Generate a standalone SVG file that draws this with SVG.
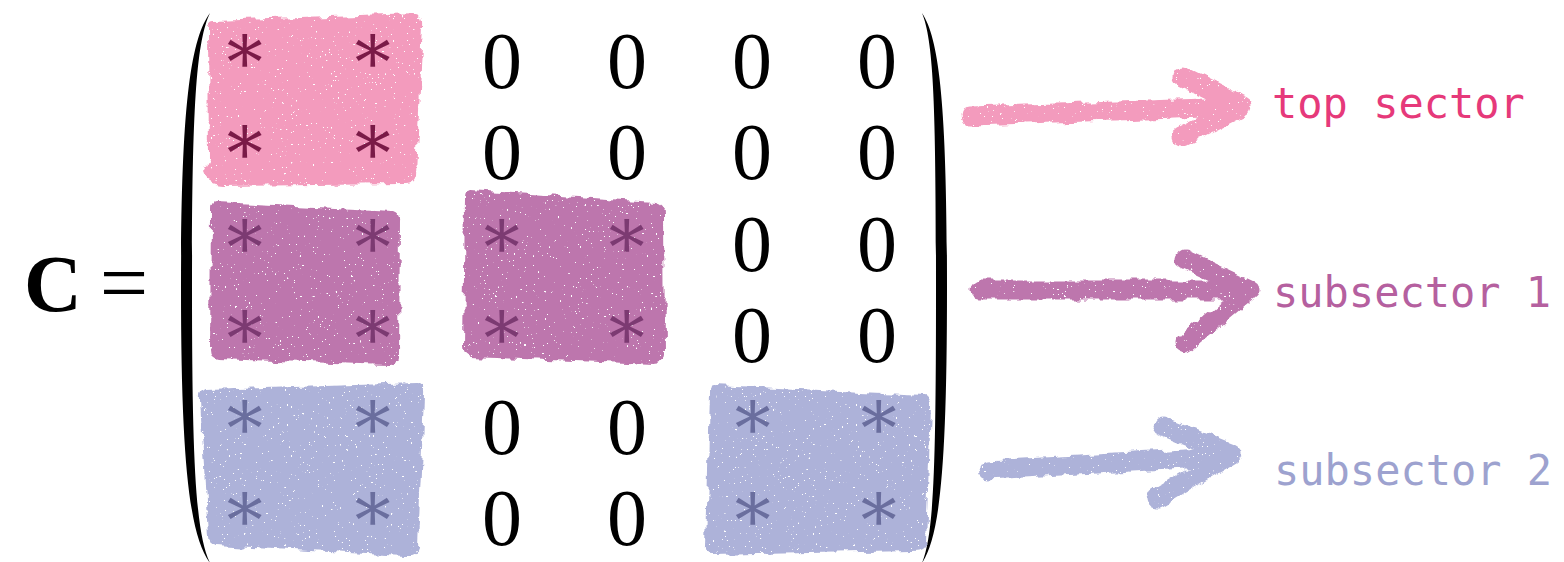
<svg xmlns="http://www.w3.org/2000/svg" width="1564" height="562" viewBox="0 0 1564 562">
<style>
.zero{font-family:"Liberation Serif","Times New Roman",serif;font-size:80px;fill:#000;text-anchor:middle}
.ast{font-family:"DejaVu Serif",serif;font-size:72px;text-anchor:middle;dominant-baseline:central}
.a1{fill:#7a1a47}.a2{fill:#7c3a72}.a3{fill:#6a6e9e}
.lbl{font-family:"DejaVu Sans Mono",monospace;font-size:42px}
.arr{fill:none;stroke-width:19;stroke-linecap:round;stroke-linejoin:round;filter:url(#crayon)}
.blk{filter:url(#crayon)}
</style>
<defs>
<filter id="crayon" x="-10%" y="-20%" width="120%" height="140%">
<feTurbulence type="fractalNoise" baseFrequency="0.07" numOctaves="3" seed="3" result="n"/>
<feDisplacementMap in="SourceGraphic" in2="n" scale="9" xChannelSelector="R" yChannelSelector="G" result="d"/>
<feTurbulence type="fractalNoise" baseFrequency="0.45" numOctaves="2" seed="7" result="f"/>
<feColorMatrix in="f" type="matrix" values="0 0 0 0 0  0 0 0 0 0  0 0 0 0 0  -30 0 0 0 23" result="m"/>
<feComposite in="d" in2="m" operator="in"/>
</filter>
</defs>
<rect width="1564" height="562" fill="#fff"/>

<g id="lhs">
<text x="24" y="311" font-family="Liberation Serif,serif" font-weight="bold" font-size="80">C</text>
<text x="124" y="312" font-family="Liberation Serif,serif" font-size="86" text-anchor="middle">=</text>
</g>

<g id="paren-left">
<path d="M210,13 C190,40 181,110 181,288 C181,466 190,536 210,563 C196,534 192,466 192,288 C192,110 196,42 210,13 Z" fill="#000"/>
</g>
<g id="paren-right">
<path d="M922,13 C940,40 947,110 947,288 C947,466 940,536 922,563 C934,534 936,466 936,288 C936,110 934,42 922,13 Z" fill="#000"/>
</g>

<g id="block-top" class="blk">
<path d="M213,20 L417,13 Q424,14 423,25 L416,175 Q414,184 404,184 L222,186 Q204,185 203,172 L209,160 L208,28 Q208,20 213,20 Z" fill="#f39bbd"/>
</g>
<g id="block-sub1a" class="blk">
<path d="M215,202 L394,211 Q401,213 400,222 L399,357 Q398,366 388,365 L218,359 Q210,358 210,350 L211,210 Q211,202 215,202 Z" fill="#bd76ad"/>
</g>
<g id="block-sub1b" class="blk">
<path d="M469,190 L655,202 Q664,204 664,214 L665,355 Q664,364 655,364 L471,357 Q463,356 463,346 L465,200 Q465,190 469,190 Z" fill="#bd76ad"/>
</g>
<g id="block-sub2a" class="blk">
<path d="M206,390 L417,383 Q425,384 424,395 L418,547 Q416,556 405,556 L216,546 Q208,545 208,535 L200,400 Q199,391 206,390 Z" fill="#adb2d9"/>
</g>
<g id="block-sub2b" class="blk">
<path d="M714,385 L924,395 Q932,397 931,406 L926,543 Q924,551 914,551 L712,555 Q705,555 706,547 L710,393 Q710,385 714,385 Z" fill="#adb2d9"/>
</g>

<g id="entries-top">
<text class="ast a1" x="245" y="48">∗</text><text class="ast a1" x="373" y="48">∗</text>
<text class="ast a1" x="245" y="139">∗</text><text class="ast a1" x="373" y="139">∗</text>
</g>
<g id="entries-sub1">
<text class="ast a2" x="245" y="233">∗</text><text class="ast a2" x="373" y="233">∗</text>
<text class="ast a2" x="245" y="324">∗</text><text class="ast a2" x="373" y="324">∗</text>
<text class="ast a2" x="502" y="233">∗</text><text class="ast a2" x="627" y="233">∗</text>
<text class="ast a2" x="502" y="324">∗</text><text class="ast a2" x="627" y="324">∗</text>
</g>
<g id="entries-sub2">
<text class="ast a3" x="245" y="414">∗</text><text class="ast a3" x="373" y="414">∗</text>
<text class="ast a3" x="245" y="506">∗</text><text class="ast a3" x="373" y="506">∗</text>
<text class="ast a3" x="753" y="414">∗</text><text class="ast a3" x="879" y="414">∗</text>
<text class="ast a3" x="753" y="506">∗</text><text class="ast a3" x="879" y="506">∗</text>
</g>
<g id="zeros">
<text class="zero" x="502" y="88">0</text><text class="zero" x="627" y="88">0</text><text class="zero" x="752" y="88">0</text><text class="zero" x="877" y="88">0</text>
<text class="zero" x="502" y="179">0</text><text class="zero" x="627" y="179">0</text><text class="zero" x="752" y="179">0</text><text class="zero" x="877" y="179">0</text>
<text class="zero" x="752" y="271">0</text><text class="zero" x="877" y="271">0</text>
<text class="zero" x="752" y="362">0</text><text class="zero" x="877" y="362">0</text>
<text class="zero" x="502" y="454">0</text><text class="zero" x="627" y="454">0</text>
<text class="zero" x="502" y="545">0</text><text class="zero" x="627" y="545">0</text>
</g>

<g id="connectors">
<path class="arr" stroke="#f39bbd" d="M970,116 L1236,107 M1182,76 L1243,106 L1182,137"/>
<path class="arr" stroke="#bd76ad" d="M980,290 L1245,290 M1184,259 L1250,290 L1186,343"/>
<path class="arr" stroke="#adb2d9" d="M988,470 L1222,457 M1162,426 L1232,454 L1157,499"/>
</g>

<g id="label-top"><text class="lbl" x="1272" y="118" fill="#e6397a">top sector</text></g>
<g id="label-sub1"><text class="lbl" x="1273" y="307" fill="#b5609f">subsector 1</text></g>
<g id="label-sub2"><text class="lbl" x="1274" y="485" fill="#9da2cf">subsector 2</text></g>
</svg>
